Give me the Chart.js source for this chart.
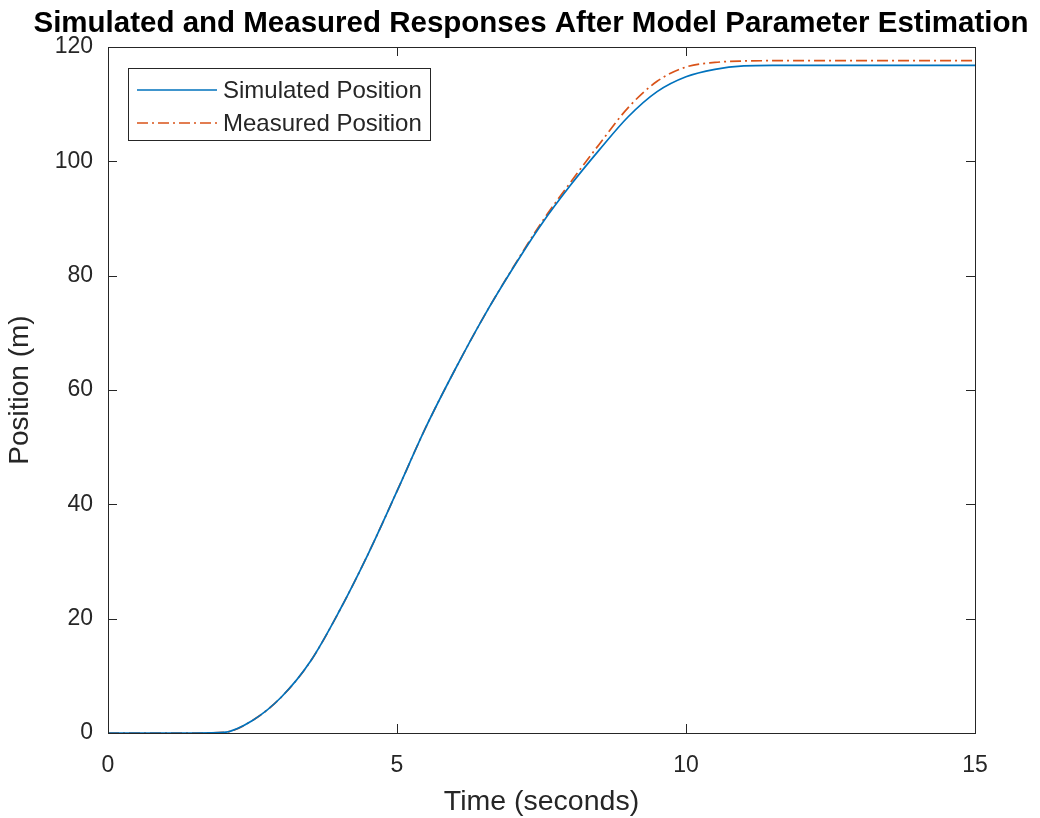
<!DOCTYPE html>
<html>
<head>
<meta charset="utf-8">
<script src="https://cdn.jsdelivr.net/npm/chart.js@4.4.1/dist/chart.umd.min.js"></script>
<style>
  html, body { margin: 0; padding: 0; background: #fff; }
  #wrap { width: 1040px; height: 818px; }
</style>
</head>
<body>
<div id="wrap"><canvas id="myChart" width="1040" height="818"></canvas></div>
<script>
const times = [0, 0.5, 1, 1.5, 2, 2.5, 3, 3.5, 4, 4.5, 5, 5.5, 6, 6.5, 7, 7.5, 8, 8.5, 9, 9.5, 10, 10.5, 11, 11.5, 12, 13, 14, 15];
const simulated = [0, 0, 0, 0, 0.1, 2.2, 6.3, 12.5, 21.3, 31.3, 42.3, 53.5, 63.5, 72.8, 81.2, 89.0, 95.8, 102.0, 107.8, 112.2, 114.8, 116.1, 116.7, 116.8, 116.8, 116.8, 116.8, 116.8];
const measured = [0, 0, 0, 0, 0.1, 2.2, 6.3, 12.5, 21.3, 31.3, 42.3, 53.5, 63.5, 72.8, 81.3, 89.3, 96.3, 103.0, 109.4, 114.0, 116.5, 117.3, 117.55, 117.6, 117.6, 117.6, 117.6, 117.6];
const xTicks = [0, 5, 10, 15];
const yTicks = [0, 20, 40, 60, 80, 100, 120];

const seriesNames = ["Simulated Position", "Measured Position"];
const blue = "#0072BD";
const orange = "#D95319";
const ink = "#262626";
const fontFamily = "'Liberation Sans', Arial, Helvetica, sans-serif";
const dashDot = [11, 4, 2, 4];

function pts(ys) {
  return times.map((t, i) => ({ x: t, y: ys[i] }));
}

// MATLAB centres the title over a slightly wider span than the plot box
const titleShift = {
  id: "titleShift",
  afterLayout(chart) {
    const t = chart.titleBlock;
    if (t) { t.left = 22; t.right = 1040; t.width = 1018; }
  }
};

// box around the axes + inward ticks + legend inside the plot
const matlabBox = {
  id: "matlabBox",
  afterDraw(chart) {
    const { ctx, chartArea: a, scales } = chart;
    ctx.save();
    ctx.strokeStyle = ink;
    ctx.lineWidth = 1;
    ctx.strokeRect(a.left + 0.5, a.top + 0.5, a.right - a.left, a.bottom - a.top);
    const len = 9;
    ctx.beginPath();
    xTicks.forEach(v => {
      const px = Math.round(scales.x.getPixelForValue(v)) + 0.5;
      ctx.moveTo(px, a.bottom); ctx.lineTo(px, a.bottom - len);
      ctx.moveTo(px, a.top); ctx.lineTo(px, a.top + len);
    });
    yTicks.forEach(v => {
      const py = Math.round(scales.y.getPixelForValue(v)) + 0.5;
      ctx.moveTo(a.left, py); ctx.lineTo(a.left + len, py);
      ctx.moveTo(a.right, py); ctx.lineTo(a.right - len, py);
    });
    ctx.stroke();

    // legend
    const lx = a.left + 20, ly = a.top + 21, lw = 302, lh = 72;
    ctx.fillStyle = "#fff";
    ctx.fillRect(lx, ly, lw, lh);
    ctx.strokeStyle = ink;
    ctx.strokeRect(lx + 0.5, ly + 0.5, lw, lh);
    ctx.font = "24px " + fontFamily;
    ctx.textBaseline = "middle";
    const rows = [
      { name: seriesNames[0], color: blue, dash: [] },
      { name: seriesNames[1], color: orange, dash: dashDot }
    ];
    rows.forEach((r, i) => {
      const cy = ly + 22 + i * 33;
      ctx.strokeStyle = r.color;
      ctx.lineWidth = 1.6;
      ctx.setLineDash(r.dash);
      ctx.beginPath();
      ctx.moveTo(lx + 9, cy); ctx.lineTo(lx + 89, cy);
      ctx.stroke();
      ctx.setLineDash([]);
      ctx.fillStyle = ink;
      ctx.fillText(r.name, lx + 95, cy + 1);
    });
    ctx.restore();
  }
};

const ctx = document.getElementById("myChart");
new Chart(ctx, {
  type: "line",
  data: {
    datasets: [
      {
        label: seriesNames[0],
        data: pts(simulated),
        borderColor: blue,
        borderWidth: 1.7,
        pointRadius: 0,
        cubicInterpolationMode: "monotone",
        fill: false
      },
      {
        label: seriesNames[1],
        data: pts(measured),
        borderColor: orange,
        borderWidth: 1.7,
        borderDash: dashDot,
        pointRadius: 0,
        cubicInterpolationMode: "monotone",
        fill: false
      }
    ]
  },
  options: {
    responsive: false,
    animation: false,
    layout: { padding: { left: 0, right: 65, top: 0, bottom: 0 } },
    plugins: {
      legend: { display: false },
      tooltip: { enabled: false },
      title: {
        display: true,
        text: "Simulated and Measured Responses After Model Parameter Estimation",
        color: "#000",
        font: { family: fontFamily, size: 29.5, weight: "bold" },
        padding: { top: 6, bottom: 5.6 }
      }
    },
    scales: {
      x: {
        type: "linear",
        min: 0,
        max: 15,
        afterBuildTicks: s => { s.ticks = xTicks.map(v => ({ value: v })); },
        afterFit: s => { s.height = 85; },
        grid: { drawOnChartArea: false, drawTicks: false },
        border: { display: true, color: ink },
        ticks: { color: ink, font: { family: fontFamily, size: 23 }, padding: 19 },
        title: {
          display: true,
          text: "Time (seconds)",
          color: ink,
          font: { family: fontFamily, size: 28.5 },
          padding: { top: 2, bottom: -1 }
        }
      },
      y: {
        min: 0,
        max: 120,
        afterBuildTicks: s => { s.ticks = yTicks.map(v => ({ value: v })); },
        afterFit: s => { s.width = 108; },
        grid: { drawOnChartArea: false, drawTicks: false },
        border: { display: true, color: ink },
        ticks: { color: ink, font: { family: fontFamily, size: 23 }, padding: 15 },
        title: {
          display: true,
          text: "Position (m)",
          color: ink,
          font: { family: fontFamily, size: 28 },
          padding: { top: 3, bottom: 6 }
        }
      }
    }
  },
  plugins: [titleShift, matlabBox]
});
</script>
</body>
</html>
